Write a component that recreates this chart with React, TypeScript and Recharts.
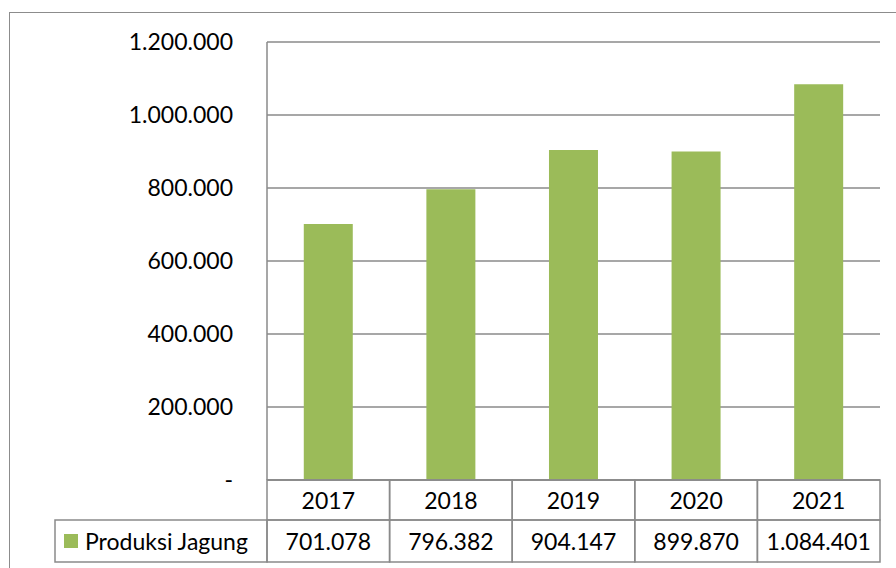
import { Bar, BarChart, CartesianGrid, XAxis, YAxis } from "recharts";

const years = ["2017", "2018", "2019", "2020", "2021"];
const production = [701078, 796382, 904147, 899870, 1084401];
const yTicks = [0, 200000, 400000, 600000, 800000, 1000000, 1200000];
const seriesName = "Produksi Jagung";

const data = years.map((year, i) => ({ year, value: production[i] }));

const W = 896;
const H = 568;
const LEFT = 267;
const RIGHT = 16;
const TOP = 42;
const AXIS_H = 88;
const ROW1 = 40;
const ROW2 = 42;
const LEGEND_X = 55;
const GREEN = "#9BBB59";
const LINE = "#8a8a8a";
const FONT = "Lato, 'Open Sans', sans-serif";
const FS = 23;

const fmt = (n: number) =>
  n === 0 ? "-" : String(n).replace(/\B(?=(\d{3})+(?!\d))/g, ".");

function TableTick(props: any) {
  const { x, y, payload, index } = props;
  const cw = (W - LEFT - RIGHT) / years.length;
  const left = x - cw / 2;
  return (
    <g>
      {index === 0 && (
        <g>
          <rect
            x={LEGEND_X}
            y={y + ROW1}
            width={left - LEGEND_X}
            height={ROW2}
            fill="none"
            stroke={LINE}
            strokeWidth={1.5}
          />
          <rect x={LEGEND_X + 9} y={y + ROW1 + 14} width={14} height={14} fill={GREEN} />
          <text
            x={LEGEND_X + 30}
            y={y + ROW1 + ROW2 / 2}
            dominantBaseline="central"
            fontFamily={FONT}
            fontSize={FS}
            fill="#000"
          >
            {seriesName}
          </text>
        </g>
      )}
      <rect x={left} y={y} width={cw} height={ROW1} fill="none" stroke={LINE} strokeWidth={1.5} />
      <rect x={left} y={y + ROW1} width={cw} height={ROW2} fill="none" stroke={LINE} strokeWidth={1.5} />
      <text
        x={x}
        y={y + ROW1 / 2}
        textAnchor="middle"
        dominantBaseline="central"
        fontFamily={FONT}
        fontSize={FS}
        fill="#000"
      >
        {payload.value}
      </text>
      <text
        x={x}
        y={y + ROW1 + ROW2 / 2}
        textAnchor="middle"
        dominantBaseline="central"
        fontFamily={FONT}
        fontSize={FS}
        fill="#000"
      >
        {fmt(production[index])}
      </text>
    </g>
  );
}

export default function App() {
  return (
    <div
      style={{
        position: "absolute",
        left: 0,
        top: 0,
        width: W,
        height: H,
        overflow: "hidden",
        background: "#fff",
      }}
    >
      <div
        style={{
          position: "absolute",
          left: 9,
          top: 12,
          width: 1000,
          height: 1000,
          border: "1px solid #8c8c8c",
        }}
      />
      <div style={{ position: "absolute", left: 0, top: 0 }}>
        <BarChart
          width={W}
          height={H}
          data={data}
          margin={{ top: TOP, right: RIGHT, bottom: 0, left: 0 }}
          barCategoryGap="30%"
        >
          <CartesianGrid vertical={false} stroke={LINE} strokeWidth={1.5} />
          <XAxis
            dataKey="year"
            height={AXIS_H}
            tickLine={false}
            axisLine={{ stroke: LINE, strokeWidth: 1.5 }}
            tickSize={0}
            tickMargin={0}
            interval={0}
            tick={<TableTick />}
          />
          <YAxis
            width={LEFT}
            domain={[0, 1200000]}
            ticks={yTicks}
            tickFormatter={fmt}
            tickLine={false}
            tickSize={0}
            tickMargin={34}
            axisLine={{ stroke: LINE, strokeWidth: 1.5 }}
            tick={{ fontFamily: FONT, fontSize: FS, fill: "#000" }}
          />
          <Bar dataKey="value" name={seriesName} fill={GREEN} isAnimationActive={false} />
        </BarChart>
      </div>
    </div>
  );
}
